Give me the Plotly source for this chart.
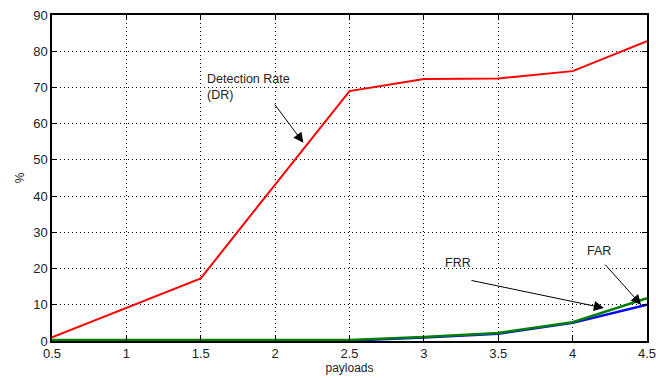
import plotly.graph_objects as go

payloads = [0.5, 1.0, 1.5, 2.0, 2.5, 3.0, 3.5, 4.0, 4.5]
dr = [1.0, 9.2, 17.3, 43.2, 69.0, 72.3, 72.5, 74.5, 82.8]
far = [0.1, 0.1, 0.1, 0.1, 0.1, 1.0, 2.0, 5.0, 10.0]
frr = [0.3, 0.3, 0.3, 0.3, 0.3, 1.1, 2.2, 5.2, 11.8]

x_ticks = [0.5, 1, 1.5, 2, 2.5, 3, 3.5, 4, 4.5]
x_tick_text = ["0.5", "1", "1.5", "2", "2.5", "3", "3.5", "4", "4.5"]
y_ticks = [0, 10, 20, 30, 40, 50, 60, 70, 80, 90]

fig = go.Figure()
fig.add_trace(go.Scatter(x=payloads, y=dr, mode="lines", line=dict(color="#ff0000", width=2), name="DR"))
fig.add_trace(go.Scatter(x=payloads, y=far, mode="lines", line=dict(color="#0000ff", width=2.5), name="FAR"))
fig.add_trace(go.Scatter(x=payloads, y=frr, mode="lines", line=dict(color="#008000", width=2.5), name="FRR"))

font = dict(family="Liberation Sans, Arial, sans-serif", size=12, color="#222222")

annotations = [
    dict(x=1.53, y=70.0, text="Detection Rate<br>(DR)", showarrow=False, xanchor="left", yanchor="middle",
         align="left", font=dict(size=12.5)),
    dict(x=2.19, y=54.7, ax=1.99, ay=65.7, axref="x", ayref="y", text="", showarrow=True,
         arrowhead=2, arrowsize=2, arrowwidth=1, arrowcolor="black"),
    dict(x=3.23, y=21.5, text="FRR", showarrow=False, xanchor="center", yanchor="middle", font=dict(size=12.5)),
    dict(x=4.21, y=9.1, ax=3.31, ay=16.8, axref="x", ayref="y", text="", showarrow=True,
         arrowhead=2, arrowsize=2, arrowwidth=1, arrowcolor="black"),
    dict(x=4.18, y=24.9, text="FAR", showarrow=False, xanchor="center", yanchor="middle", font=dict(size=12.5)),
    dict(x=4.46, y=10.0, ax=4.21, ay=21.5, axref="x", ayref="y", text="", showarrow=True,
         arrowhead=2, arrowsize=2, arrowwidth=1, arrowcolor="black"),
]

fig.update_layout(
    width=656, height=378,
    margin=dict(l=52, r=9, t=15, b=37),
    paper_bgcolor="white", plot_bgcolor="white",
    showlegend=False,
    font=font,
    annotations=annotations,
)
fig.update_xaxes(
    range=[0.5, 4.5], tickvals=x_ticks, ticktext=x_tick_text, automargin=False,
    ticklabeloverflow="allow",
    showgrid=True, gridcolor="black", griddash="1px,3px", gridwidth=1,
    showline=True, linecolor="black", linewidth=1.5, mirror="ticks",
    ticks="inside", ticklen=5, tickcolor="black", zeroline=False,
    title=dict(text="payloads", standoff=2, font=dict(size=12)),
    tickfont=dict(size=13),
)
fig.update_yaxes(
    range=[0, 90], tickvals=y_ticks, automargin=False,
    ticklabeloverflow="allow",
    showgrid=True, gridcolor="black", griddash="1px,3px", gridwidth=1,
    showline=True, linecolor="black", linewidth=1.5, mirror="ticks",
    ticks="inside", ticklen=5, tickcolor="black", zeroline=False,
    title=dict(text="%", standoff=6, font=dict(size=12)),
    tickfont=dict(size=13),
)

fig.write_html("out.html")
